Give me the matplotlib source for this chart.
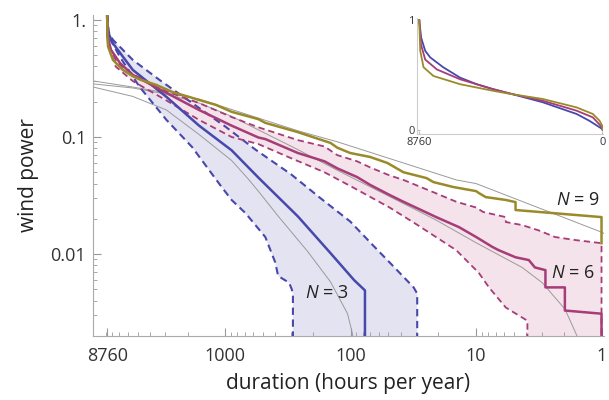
import matplotlib.pyplot as plt
import numpy as np

plt.rcParams['font.family'] = ['Open Sans', 'DejaVu Sans']
plt.rcParams['mathtext.fontset'] = 'custom'
plt.rcParams['mathtext.it'] = 'Open Sans:italic'
plt.rcParams['mathtext.rm'] = 'Open Sans'

# main chart: duration (hours per year) vs wind power
n9_dur = [8760, 8700, 8610, 7870, 6560, 5470, 4820, 3540, 2950, 2650, 1950, 1620, 1190, 891, 545, 480,
          264, 145, 128, 101, 70, 51, 38, 24.9, 21.9, 15.2, 10, 9.5, 8.4, 5.8, 4.85, 4.85, 1.0, 1.0]
n9_pow = [1.1, 0.68, 0.59, 0.455, 0.374, 0.33, 0.31, 0.278, 0.255, 0.242, 0.220, 0.207, 0.188, 0.164, 0.142, 0.132,
          0.110, 0.089, 0.081, 0.073, 0.0675, 0.060, 0.050, 0.0446, 0.0412, 0.0374, 0.0345, 0.0332, 0.0307, 0.029, 0.0278, 0.0238, 0.0207, 0.0124]

n6_dur = [8760, 8700, 8160, 6930, 5470, 2950, 1620, 891, 545, 480, 264, 162, 128, 89, 70, 49, 38, 20.8,
          13.7, 10, 7.4, 6.6, 4.85, 3.8, 3.4, 2.8, 2.8, 1.96, 1.96, 1.0, 1.0]
n6_pow = [1.1, 0.72, 0.554, 0.429, 0.339, 0.238, 0.170, 0.125, 0.099, 0.096, 0.073, 0.062, 0.054, 0.0455, 0.039, 0.032, 0.028, 0.0207,
          0.0170, 0.0140, 0.0115, 0.0108, 0.0094, 0.0089, 0.0077, 0.0073, 0.0052, 0.0052, 0.0033, 0.0031, 0.001]

n6_hi_dur = [8760, 8550, 7300, 5500, 4000, 2950, 1620, 891, 545, 264, 162, 128, 89, 70, 49, 38, 20.8, 14.4,
             10, 8.8, 5.8, 5.8, 4.3, 3.2, 2.35, 1.63, 1.0, 1.0]
n6_hi_pow = [1.1, 0.62, 0.43, 0.345, 0.285, 0.245, 0.195, 0.148, 0.121, 0.094, 0.083, 0.070, 0.062, 0.055, 0.047, 0.043, 0.033, 0.028,
             0.025, 0.0229, 0.0207, 0.0188, 0.0177, 0.016, 0.014, 0.0132, 0.0124, 0.001]

n6_lo_dur = [8760, 8600, 7500, 5470, 2950, 1620, 891, 545, 300, 162, 100, 49, 30, 14.4, 9.5, 7.9, 5.8, 3.9, 3.9]
n6_lo_pow = [1.1, 0.62, 0.40, 0.30, 0.205, 0.140, 0.100, 0.087, 0.066, 0.050, 0.038, 0.025, 0.018, 0.0108, 0.0069, 0.0052, 0.0035, 0.0027, 0.001]

n3_dur = [8760, 8700, 7870, 5470, 2950, 1620, 891, 545, 264, 145, 94, 77, 77]
n3_pow = [1.1, 0.80, 0.63, 0.374, 0.220, 0.125, 0.077, 0.045, 0.021, 0.0102, 0.006, 0.0049, 0.001]

n3_hi_dur = [8760, 8600, 7870, 5470, 3350, 1840, 993, 575, 299, 174, 101, 66, 49, 31.5, 29.5, 29.5]
n3_hi_pow = [1.1, 0.80, 0.675, 0.455, 0.307, 0.195, 0.122, 0.078, 0.048, 0.030, 0.019, 0.0118, 0.0085, 0.0052, 0.0046, 0.001]

n3_lo_dur = [8760, 8400, 6930, 4820, 2950, 1840, 1070, 891, 691, 480, 400, 379, 310, 295, 289, 289]
n3_lo_pow = [1.1, 0.70, 0.483, 0.267, 0.140, 0.082, 0.0374, 0.029, 0.0224, 0.014, 0.0085, 0.0065, 0.0057, 0.0050, 0.0045, 0.001]

# thin grey fitted curves
fit9_dur = [11320, 5470, 2950, 1620, 545, 264, 128, 14.4, 10, 1.0, 0.9]
fit9_pow = [0.301, 0.267, 0.238, 0.211, 0.145, 0.113, 0.091, 0.043, 0.040, 0.0154, 0.0145]
fit6_dur = [11320, 5470, 2950, 1620, 891, 545, 264, 128, 49, 20.8, 10, 4.3, 2.97, 1.96, 1.63, 1.4]
fit6_pow = [0.284, 0.262, 0.232, 0.195, 0.150, 0.115, 0.078, 0.052, 0.031, 0.0195, 0.0125, 0.0077, 0.0057, 0.0034, 0.0022, 0.0015]
fit3_dur = [11320, 5470, 2950, 1620, 891, 653, 545, 379, 220, 145, 106, 97, 92]
fit3_pow = [0.267, 0.222, 0.170, 0.105, 0.063, 0.0435, 0.0344, 0.0211, 0.0105, 0.0058, 0.0031, 0.0021, 0.0014]

x_ticks = [8760, 1000, 100, 10, 1]
x_labels = ['8760', '1000', '100', '10', '1']
y_ticks = [1, 0.1, 0.01]
y_labels = ['1.', '0.1', '0.01']

# inset (linear axes)
in3_dur = [8760, 8670, 8475, 8237, 7617, 6808, 6013, 5237, 4428, 2857, 1238, 619, 14, 0]
in3_pow = [1.0, 0.84, 0.72, 0.66, 0.57, 0.475, 0.415, 0.37, 0.33, 0.25, 0.143, 0.08, 0.006, 0.0]
in6_dur = [8760, 8680, 8475, 7918, 6808, 5237, 4428, 2857, 1238, 462, 14, 0]
in6_pow = [1.0, 0.78, 0.64, 0.55, 0.46, 0.37, 0.33, 0.264, 0.173, 0.112, 0.02, 0.0]
in9_dur = [8760, 8713, 8555, 8080, 6808, 5237, 4428, 2857, 1238, 462, 143, 14, 0]
in9_pow = [1.0, 0.72, 0.57, 0.49, 0.415, 0.355, 0.327, 0.28, 0.203, 0.143, 0.082, 0.036, 0.0]

blue = '#4848ac'
magenta = '#a63c78'
olive = '#9a8a2a'
grey = '#9a9a9a'
dash = (0, (3.5, 2.2))

fig = plt.figure(figsize=(6.09, 4.0), dpi=100)
ax = fig.add_axes([0.153, 0.16, 0.838, 0.8025])

ax.fill(n3_hi_dur + n3_lo_dur[::-1], n3_hi_pow + n3_lo_pow[::-1], color='#e3e3f2', lw=0, zorder=1)
ax.fill(n6_hi_dur + n6_lo_dur[::-1], n6_hi_pow + n6_lo_pow[::-1], color='#f4e3ea', lw=0, zorder=1)

for d, p in [(fit9_dur, fit9_pow), (fit6_dur, fit6_pow), (fit3_dur, fit3_pow)]:
    ax.plot(d, p, color=grey, lw=0.7, zorder=2)

ax.plot(n3_hi_dur, n3_hi_pow, color=blue, lw=1.5, ls=dash, zorder=3)
ax.plot(n3_lo_dur, n3_lo_pow, color=blue, lw=1.5, ls=dash, zorder=3)
ax.plot(n6_hi_dur, n6_hi_pow, color=magenta, lw=1.3, ls=dash, zorder=3)
ax.plot(n6_lo_dur, n6_lo_pow, color=magenta, lw=1.3, ls=dash, zorder=3)
ax.plot(n3_dur, n3_pow, color=blue, lw=1.8, zorder=4)
ax.plot(n6_dur, n6_pow, color=magenta, lw=1.8, zorder=4)
ax.plot(n9_dur, n9_pow, color=olive, lw=1.8, zorder=5)

ax.set_xscale('log')
ax.set_yscale('log')
ax.set_xlim(11320, 0.964)
ax.set_ylim(0.002, 1.1)
ax.set_xticks(x_ticks)
ax.set_xticklabels(x_labels)
ax.set_yticks(y_ticks)
ax.set_yticklabels(y_labels)
ax.tick_params(which='both', direction='in', color='#999999', labelcolor='#333333', labelsize=13)
ax.tick_params(which='major', length=6, width=0.8)
ax.tick_params(which='minor', length=3, width=0.6)
ax.tick_params(axis='x', pad=8)
ax.tick_params(axis='y', pad=5)
for s in ['top', 'right']:
    ax.spines[s].set_visible(False)
for s in ['left', 'bottom']:
    ax.spines[s].set_color('#aaaaaa')
    ax.spines[s].set_linewidth(0.8)
ax.set_xlabel('duration (hours per year)', fontsize=15, color='#222222', labelpad=6)
ax.set_ylabel('wind power', fontsize=15, color='#222222', labelpad=8)

ax.text(155, 0.0047, r'$N$ = 3', fontsize=13, color='#222222', ha='center', va='center', zorder=6)
ax.text(1.69, 0.0069, r'$N$ = 6', fontsize=13, color='#222222', ha='center', va='center', zorder=6)
ax.text(1.55, 0.029, r'$N$ = 9', fontsize=13, color='#222222', ha='center', va='center', zorder=6)

# inset
axi = fig.add_axes([0.685, 0.665, 0.305, 0.29])
axi.plot(in3_dur, in3_pow, color=blue, lw=1.3)
axi.plot(in6_dur, in6_pow, color=magenta, lw=1.3)
axi.plot(in9_dur, in9_pow, color=olive, lw=1.3)
axi.set_xlim(8860, -20)
axi.set_ylim(-0.04, 1.02)
axi.set_xticks([8760, 0])
axi.set_xticklabels(['8760', '0'])
axi.set_yticks([0, 1])
axi.set_yticklabels(['0', '1'])
axi.tick_params(direction='in', length=2, color='#bbbbbb', labelcolor='#333333', labelsize=8, pad=2)
for s in ['top', 'right']:
    axi.spines[s].set_visible(False)
for s in ['left', 'bottom']:
    axi.spines[s].set_color('#cccccc')
    axi.spines[s].set_linewidth(0.8)
axi.patch.set_alpha(0)

fig.savefig('out.png', dpi=100)
